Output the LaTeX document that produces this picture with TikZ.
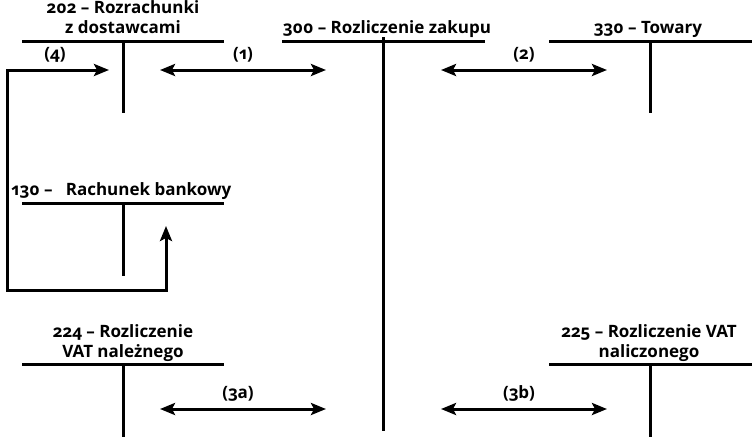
\documentclass[tikz,border=0pt]{standalone}
\usepackage{fontspec}
\setmainfont{Open Sans}[Numbers=OldStyle]
\usetikzlibrary{arrows.meta}
\begin{document}
\begin{tikzpicture}[x=1pt,y=-1pt,
  acct/.style={line width=3pt},
  flow/.style={line width=3pt,{Stealth[length=15pt,width=12pt,inset=3pt]}-{Stealth[length=15pt,width=12pt,inset=3pt]}},
  title/.style={font=\bfseries\fontsize{17}{20}\selectfont,align=center,inner sep=0pt,anchor=base},
  lbl/.style={font=\bfseries\fontsize{17}{18}\selectfont,inner sep=0pt,anchor=base}]
\useasboundingbox (0,0) rectangle (756,445);
% T-accounts: coordinates
\coordinate (a202l) at (22,41);  \coordinate (a202r) at (224,41);
\coordinate (a202t) at (123,41); \coordinate (a202b) at (123,113);
\coordinate (a300l) at (282,41); \coordinate (a300r) at (485,41);
\coordinate (a300t) at (383,37); \coordinate (a300b) at (383,431);
\coordinate (a330l) at (549,41); \coordinate (a330r) at (752,41);
\coordinate (a330t) at (650,41); \coordinate (a330b) at (650,113);
\coordinate (a130l) at (22,203); \coordinate (a130r) at (224,203);
\coordinate (a130t) at (123,203); \coordinate (a130b) at (123,276);
\coordinate (a224l) at (22,364); \coordinate (a224r) at (224,364);
\coordinate (a224t) at (123,364); \coordinate (a224b) at (123,437);
\coordinate (a225l) at (549,364); \coordinate (a225r) at (752,364);
\coordinate (a225t) at (650,364); \coordinate (a225b) at (650,437);
\foreach \a in {a202,a300,a330,a130,a224,a225}{
  \draw[acct] (\a l) -- (\a r);
  \draw[acct] (\a t) -- (\a b);
}
% titles
\node[title] (t202) at (123,33) {202 – Rozrachunki\\z dostawcami};
\node[title] (t300) at (387,33) {300 – Rozliczenie zakupu};
\node[title] (t330) at (648,33) {330 – Towary};
\node[title,anchor=base west] (t130) at (11,195) {130 –\ \ \ Rachunek bankowy};
\node[title] (t224) at (123,357) {224 – Rozliczenie\\VAT należnego};
\node[title] (t225) at (649,357) {225 – Rozliczenie VAT\\naliczonego};
% flows
\coordinate (f1a) at (160,70); \coordinate (f1b) at (326,70);
\coordinate (f2a) at (441,70); \coordinate (f2b) at (607,70);
\coordinate (f3aa) at (160,409); \coordinate (f3ab) at (326,409);
\coordinate (f3ba) at (441,409); \coordinate (f3bb) at (607,409);
\draw[flow] (f1a) -- (f1b);
\draw[flow] (f2a) -- (f2b);
\draw[flow] (f3aa) -- (f3ab);
\draw[flow] (f3ba) -- (f3bb);
\coordinate (f4a) at (166,226); \coordinate (f4b) at (166,290);
\coordinate (f4c) at (7,290); \coordinate (f4d) at (7,70);
\coordinate (f4e) at (109,70);
\draw[flow,line join=miter] (f4a) -- (f4b) -- (f4c) -- (f4d) -- (f4e);
% labels
\node[lbl] (l1) at (243,59) {(1)};
\node[lbl] (l2) at (524,59) {(2)};
\node[lbl] (l4) at (55,59) {(4)};
\node[lbl] (l3a) at (238,398) {(3a)};
\node[lbl] (l3b) at (519,398) {(3b)};
\end{tikzpicture}
\end{document}
